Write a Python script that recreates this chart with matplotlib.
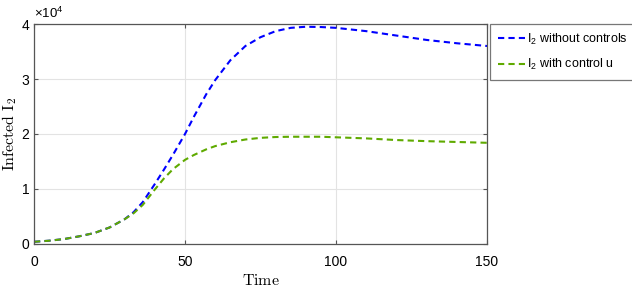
import matplotlib
matplotlib.use("Agg")
import matplotlib.pyplot as plt
import numpy as np

# time and infected I2 values (x 1e4)
time = [0, 5, 10, 15, 20, 25, 30, 33, 36, 40, 43, 46, 50, 53, 57, 60, 65, 70, 75,
        80, 85, 90, 95, 100, 110, 120, 130, 140, 150]
i2_no_control = [0.04, 0.06, 0.09, 0.14, 0.20, 0.30, 0.45, 0.58, 0.76, 1.09, 1.35, 1.62,
                 2.00, 2.32, 2.72, 2.98, 3.34, 3.60, 3.76, 3.87, 3.93, 3.95, 3.945, 3.93,
                 3.87, 3.79, 3.71, 3.65, 3.60]
i2_control_u = [0.04, 0.06, 0.09, 0.14, 0.20, 0.30, 0.45, 0.56, 0.71, 0.99, 1.19, 1.36,
                1.53, 1.62, 1.72, 1.78, 1.85, 1.90, 1.93, 1.945, 1.95, 1.95, 1.95, 1.94,
                1.92, 1.89, 1.87, 1.855, 1.84]
labels = [r"I$_2$ without controls", r"I$_2$ with control u"]

plt.rcParams["font.family"] = "Liberation Sans"
plt.rcParams["mathtext.fontset"] = "custom"
plt.rcParams["mathtext.rm"] = "Liberation Sans"
plt.rcParams["mathtext.it"] = "Liberation Sans"

fig = plt.figure(figsize=(6.32, 2.92), dpi=100)
ax = fig.add_axes([0.0538, 0.1644, 0.7168, 0.7534])

scale = 1e4
ax.plot(time, np.array(i2_no_control) * scale, linestyle=(0, (3, 2)), color="#0000FF",
        linewidth=1.5, label=labels[0])
ax.plot(time, np.array(i2_control_u) * scale, linestyle=(0, (3, 2)), color="#5FAA00",
        linewidth=1.5, label=labels[1])

ax.set_xlim(0, 150)
ax.set_ylim(0, 4e4)
ax.set_xticks([0, 50, 100, 150])
ax.set_yticks([0, 1e4, 2e4, 3e4, 4e4])
ax.set_yticklabels(["0", "1", "2", "3", "4"])
ax.text(0.0, 1.015, r"$\times10^4$", transform=ax.transAxes, fontsize=9.5, va="bottom")
ax.grid(True, color="#E3E3E3", linewidth=0.8)
ax.tick_params(direction="in", top=True, right=True, labelsize=10, length=3,
               color="#555555")
ax.tick_params(axis="x", pad=8)
for s in ax.spines.values():
    s.set_color("#555555")
    s.set_linewidth(0.9)

ax.set_xlabel(r"$\mathrm{Time}$", fontsize=11.5, labelpad=3, math_fontfamily="cm")
ax.set_ylabel(r"$\mathrm{Infected\ I_2}$", fontsize=11.5, math_fontfamily="cm")
ax.yaxis.set_label_coords(-0.034, 0.5)

leg = fig.legend(loc="upper left", bbox_to_anchor=(0.776, 0.918), fontsize=9,
                 frameon=True, fancybox=False, edgecolor="#555555", borderaxespad=0,
                 handlelength=2.2, handletextpad=0.15, borderpad=0.6, labelspacing=0.85)
leg.get_frame().set_linewidth(0.9)

fig.savefig("out.png", dpi=100)
